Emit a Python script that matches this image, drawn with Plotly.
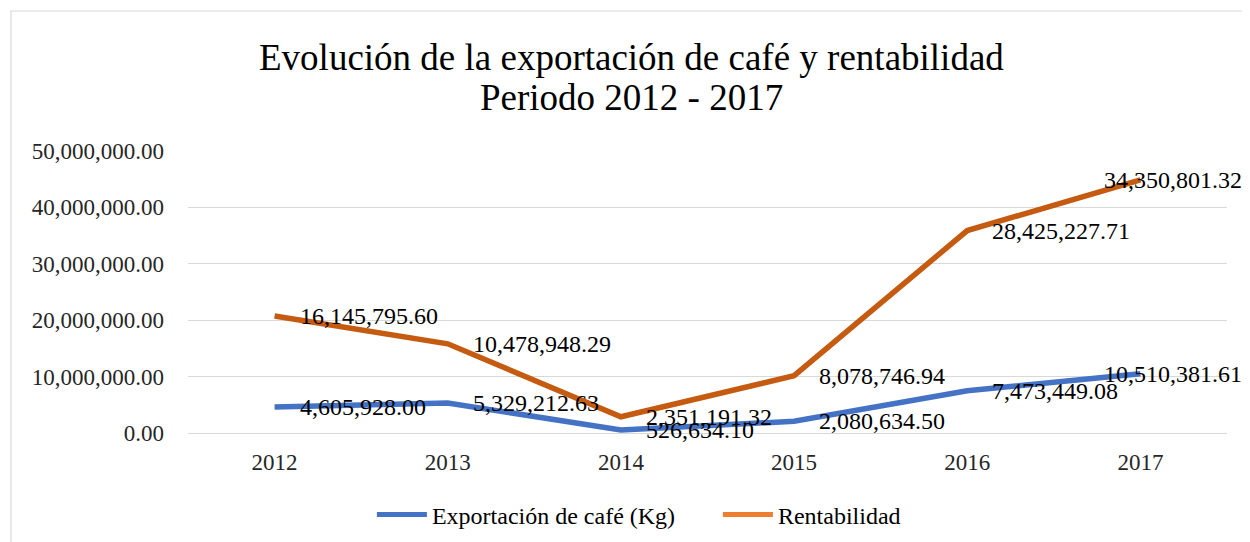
import plotly.graph_objects as go
import numpy as np

years = ["2012", "2013", "2014", "2015", "2016", "2017"]
exportacion = [4605928.00, 5329212.63, 526634.10, 2080634.50, 7473449.08, 10510381.61]
rentabilidad = [16145795.60, 10478948.29, 2351191.32, 8078746.94, 28425227.71, 34350801.32]
title_lines = ["Evolución de la exportación de café y rentabilidad", "Periodo 2012 - 2017"]

blue = "#4472C4"
orange_line = "#C55A11"
orange_legend = "#ED7D31"
font_family = "Liberation Serif, Times New Roman, serif"

stack_top = (np.array(exportacion) + np.array(rentabilidad)).tolist()

fig = go.Figure()
fig.add_trace(go.Scatter(x=years, y=exportacion, mode="lines",
                         line=dict(color=blue, width=5.5), showlegend=False,
                         hoverinfo="skip"))
fig.add_trace(go.Scatter(x=years, y=stack_top, mode="lines",
                         line=dict(color=orange_line, width=5.5), showlegend=False,
                         hoverinfo="skip"))
# legend entries
fig.add_trace(go.Scatter(x=[years[0]], y=[None], mode="lines", name="Exportación de café (Kg)",
                         line=dict(color=blue, width=5)))
fig.add_trace(go.Scatter(x=[years[0]], y=[None], mode="lines", name="Rentabilidad",
                         line=dict(color=orange_legend, width=5)))

def fmt(v):
    return f"{v:,.2f}"

annotations = []
for i, yr in enumerate(years):
    shift = 23 if i < len(years) - 1 else -38
    annotations.append(dict(x=i, y=exportacion[i], text=fmt(exportacion[i]),
                            xanchor="left", yanchor="middle", xshift=shift, showarrow=False,
                            font=dict(family=font_family, size=24, color="#000000")))
    annotations.append(dict(x=i, y=stack_top[i], text=fmt(rentabilidad[i]),
                            xanchor="left", yanchor="middle", xshift=shift, showarrow=False,
                            font=dict(family=font_family, size=24, color="#000000")))

# title as two annotation lines (tighter line spacing, like the reference)
annotations.append(dict(xref="paper", yref="paper", x=0.4273, y=1.333, text=title_lines[0],
                        xanchor="center", yanchor="middle", showarrow=False,
                        font=dict(family=font_family, size=37, color="#000000")))
annotations.append(dict(xref="paper", yref="paper", x=0.4273, y=1.188, text=title_lines[1],
                        xanchor="center", yanchor="middle", showarrow=False,
                        font=dict(family=font_family, size=37, color="#000000")))

fig.update_layout(
    width=1242, height=534,
    margin=dict(l=180, r=23, t=143, b=109, autoexpand=False),
    paper_bgcolor="white", plot_bgcolor="white",
    font=dict(family=font_family, size=24, color="#262626"),
    xaxis=dict(type="category", categoryorder="array", categoryarray=years,
               range=[-0.5, 5.5], showgrid=False, showline=True, linecolor="#D9D9D9",
               linewidth=1.3, ticks="", tickfont=dict(size=23, color="#262626"),
               ticklabelstandoff=8, automargin=False),
    yaxis=dict(range=[0, 50000000], dtick=10000000, tickformat=",.2f",
               showgrid=True, gridcolor="#D9D9D9", gridwidth=1.3, zeroline=False,
               showline=False, ticks="", tickfont=dict(size=23, color="#262626"),
               ticklabelstandoff=23, automargin=False),
    legend=dict(orientation="h", x=0.177, xanchor="left", y=-0.29, yanchor="middle",
                font=dict(family=font_family, size=24, color="#000000"),
                itemwidth=50, entrywidth=281, entrywidthmode="pixels"),
    annotations=annotations,
    shapes=[dict(type="rect", xref="paper", yref="paper", x0=-0.1704, y0=-0.4,
                 x1=1.05, y1=1.4965, line=dict(color="#D9D9D9", width=1.2),
                 fillcolor="rgba(0,0,0,0)", layer="below")],
)

fig.write_html("out.html")
